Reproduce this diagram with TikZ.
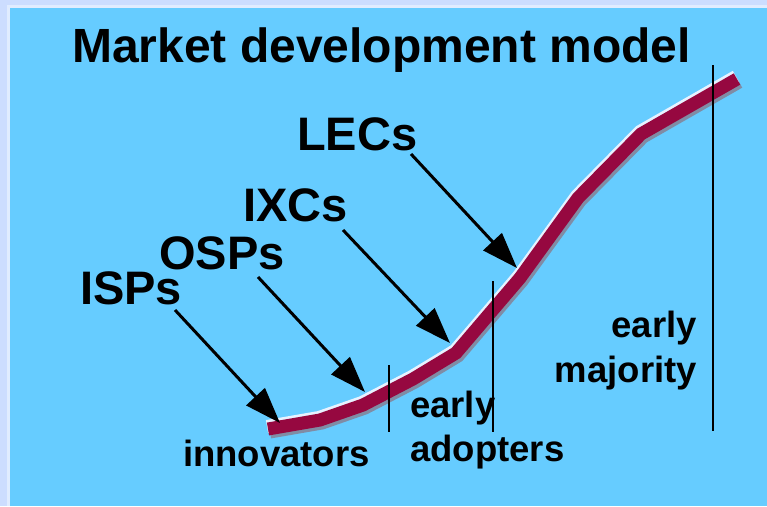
\documentclass[tikz,border=0pt]{standalone}
\usepackage{fontspec}
\setmainfont{Liberation Sans}
\usetikzlibrary{arrows.meta}
\definecolor{bluebg}{RGB}{102,204,255}
\definecolor{frameout}{RGB}{204,221,255}
\definecolor{framein}{RGB}{224,236,255}
\definecolor{curvecol}{RGB}{150,8,64}
\definecolor{shadowc}{RGB}{128,140,165}
\definecolor{hilite}{RGB}{232,242,255}
\begin{document}
\begin{tikzpicture}[x=1pt,y=-1pt,
  title/.style={font=\fontsize{48}{48}\selectfont\bfseries, inner sep=0pt, anchor=base west},
  big/.style={font=\fontsize{47}{47}\selectfont\bfseries, inner sep=0pt, anchor=base west},
  small/.style={font=\fontsize{36.5}{36.5}\selectfont\bfseries, inner sep=0pt},
  pointer/.style={line width=3pt, -{Triangle[length=36pt,width=25pt]}},
  divider/.style={line width=2pt},
  band/.style={line width=13pt, line join=miter}
]
\useasboundingbox (0,0) rectangle (767,506);
% background and frame
\fill[frameout] (0,0) rectangle (767,506);
\fill[framein] (7,5) rectangle (767,506);
\fill[bluebg] (10,7.5) rectangle (767,506);

% title
\node[title] (title) at (72,62) {Market development model};

% curve with shadow and highlight
\foreach \dx/\dy/\col in {2/3/shadowc, -1/-2.5/hilite, 0/0/curvecol}
  \draw[band, color=\col, shift={(\dx,\dy)}]
    (268,429) -- (320,420) -- (363,405) -- (413,379) -- (456,353)
    -- (520,278) -- (578,198) -- (641,134) -- (737,79);

% dividers
\coordinate (d1t) at (389,365); \coordinate (d1b) at (389,432);
\coordinate (d2t) at (493,281); \coordinate (d2b) at (493,432);
\coordinate (d3t) at (713,65);  \coordinate (d3b) at (713,431);
\draw[divider] (d1t) -- (d1b);
\draw[divider] (d2t) -- (d2b);
\draw[divider] (d3t) -- (d3b);

% segment labels
\node[small, anchor=base west] (inn) at (183,466) {innovators};
\node[small, anchor=base west] (ea1) at (410,417) {early};
\node[small, anchor=base west] (ea2) at (410,461) {adopters};
\node[small, anchor=base east] (em1) at (697,337) {early};
\node[small, anchor=base east] (em2) at (697,382) {majority};

% player labels
\node[big] (lecs) at (297,150) {LECs};
\node[big] (ixcs) at (243,221) {IXCs};
\node[big] (osps) at (159,269) {OSPs};
\node[big] (isps) at (80,304) {ISPs};

% arrows
\coordinate (isps-s) at (175,310); \coordinate (isps-t) at (280,423);
\coordinate (osps-s) at (258,277); \coordinate (osps-t) at (365,392);
\coordinate (ixcs-s) at (343,230); \coordinate (ixcs-t) at (450,343);
\coordinate (lecs-s) at (411,154); \coordinate (lecs-t) at (517,268);
\draw[pointer] (isps-s) -- (isps-t);
\draw[pointer] (osps-s) -- (osps-t);
\draw[pointer] (ixcs-s) -- (ixcs-t);
\draw[pointer] (lecs-s) -- (lecs-t);
\end{tikzpicture}
\end{document}
